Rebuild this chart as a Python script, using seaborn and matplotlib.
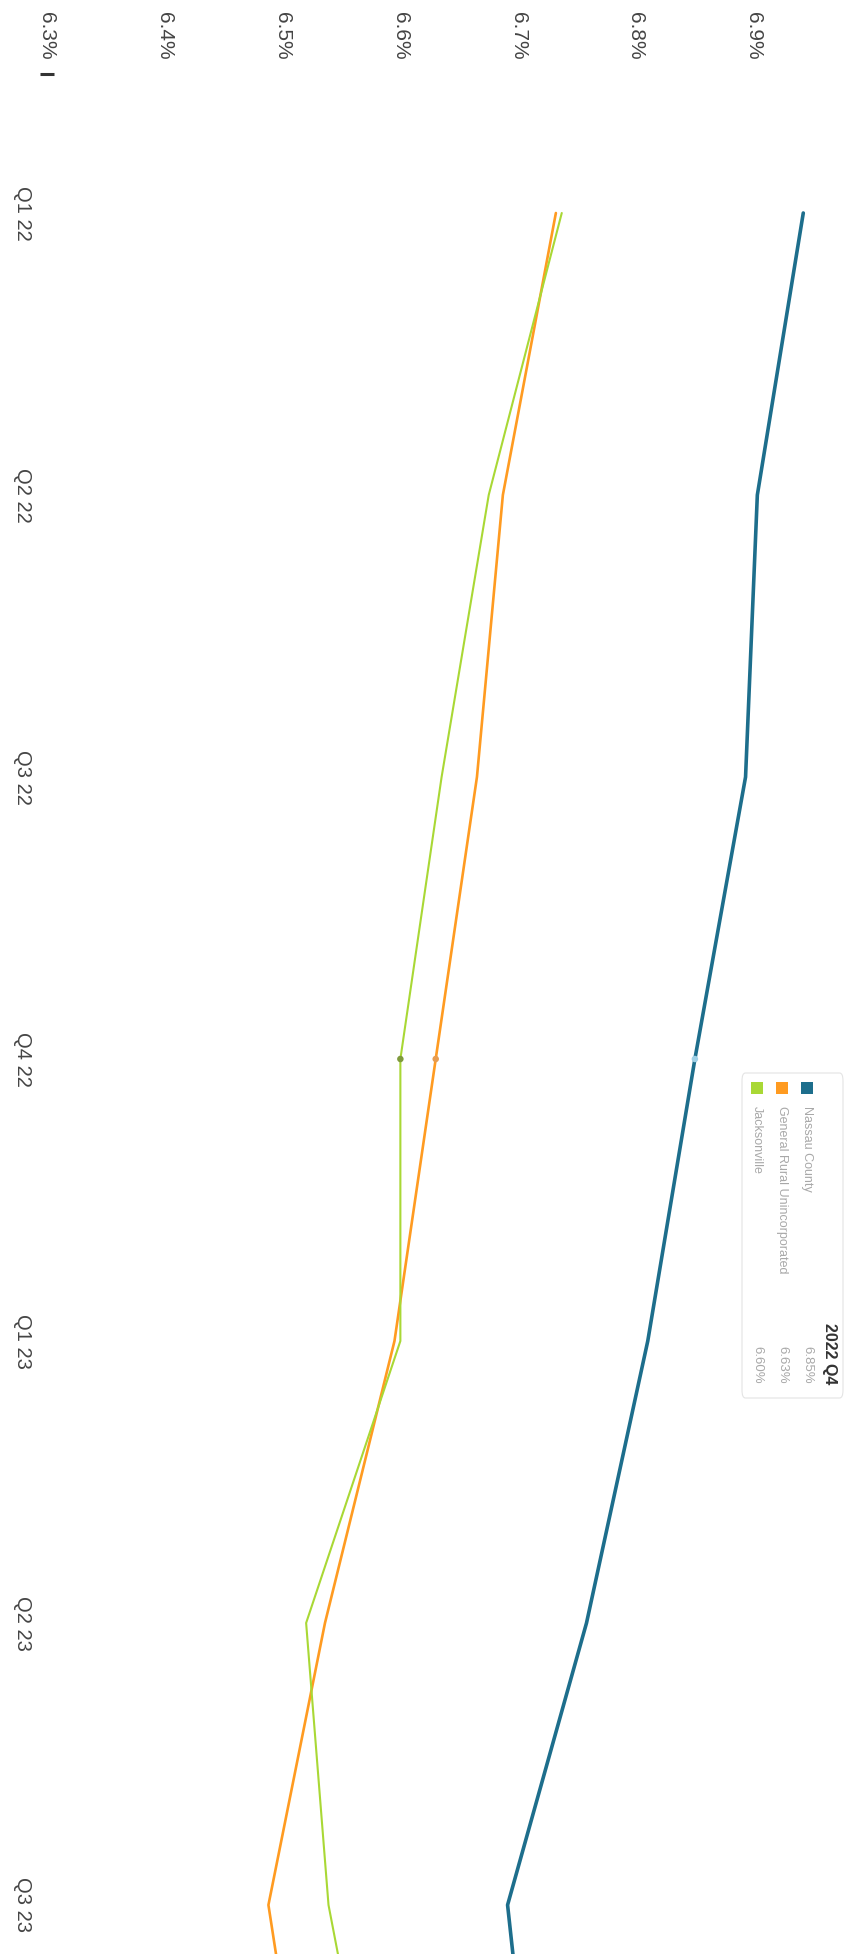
import numpy as np
import pandas as pd
import matplotlib
matplotlib.use("Agg")
import matplotlib.pyplot as plt
import seaborn as sns
from matplotlib.patches import FancyBboxPatch, Rectangle

# chart data (the chart is drawn turned a quarter turn: values run left->right, quarters top->bottom)
quarters = ["Q1 22", "Q2 22", "Q3 22", "Q4 22", "Q1 23", "Q2 23", "Q3 23", "Q4 23"]
nassau = [6.942, 6.903, 6.893, 6.85, 6.81, 6.758, 6.691, 6.717]
general_rural = [6.732, 6.687, 6.665, 6.63, 6.595, 6.536, 6.488, 6.525]
jacksonville = [6.737, 6.675, 6.635, 6.60, 6.60, 6.52, 6.539, 6.585]
series_names = ["Nassau County", "General Rural Unincorporated", "Jacksonville"]
series_colors = ["#1d6e8c", "#ff9b21", "#a9d835"]
hover_colors = ["#9fd0e6", "#e79c50", "#7f9a3c"]
pct_ticks = [6.3, 6.4, 6.5, 6.6, 6.7, 6.8, 6.9]
hover_quarter = "Q4 22"
tooltip_title = "2022 Q4"

df = pd.DataFrame({
    "quarter": quarters * 3,
    "q_idx": list(range(len(quarters))) * 3,
    "rate": nassau + general_rural + jacksonville,
    "series": np.repeat(series_names, len(quarters)),
})

sns.set_theme(style="white")
plt.rcParams["font.family"] = ["Liberation Sans", "DejaVu Sans"]

W, H, DPI = 857, 1954, 100
fig = plt.figure(figsize=(W / DPI, H / DPI), dpi=DPI, facecolor="white")
ax = fig.add_axes([42 / W, 0, 1 - 42 / W, 1 - 74 / H])

sns.lineplot(
    data=df, x="rate", y="q_idx", hue="series", hue_order=series_names,
    palette=series_colors, orient="y", sort=True, legend=False, ax=ax,
)
for line, lw in zip(ax.lines, [2.6, 1.9, 1.5]):
    line.set_linewidth(lw)
    line.set_solid_joinstyle("round")

# hover dots at the highlighted quarter
hi = quarters.index(hover_quarter)
hover_vals = [nassau[hi], general_rural[hi], jacksonville[hi]]
ax.scatter(hover_vals, [hi] * 3, c=hover_colors, s=22, zorder=5, linewidths=0)

ax.set_xlabel("")
ax.set_ylabel("")
for s in ax.spines.values():
    s.set_visible(False)

ax.set_xticks(pct_ticks)
ax.set_xticklabels([f"{t:.1f}%" for t in pct_ticks], rotation=-90, ha="center", va="bottom")
ax.xaxis.tick_top()
ax.tick_params(axis="x", top=True, bottom=False, labeltop=True, labelbottom=False,
               length=0, width=2.2, color="#333333", pad=10, labelsize=15,
               labelcolor="#444444")
for i, tk in enumerate(ax.xaxis.get_major_ticks()):
    tk.tick2line.set_marker("_")
    tk.tick2line.set_markersize(9.5 if i == 0 else 0)

ax.set_yticks(range(len(quarters)))
ax.set_yticklabels(quarters, rotation=-90, ha="right", va="center")
ax.tick_params(axis="y", left=False, length=0, pad=7, labelsize=14.5, labelcolor="#444444")

# limits after the ticks, so the ticks do not widen them
ax.set_xlim(6.2958, 6.9876)
ax.set_ylim(6.1738, -0.4929)

# hover tooltip (turned with the chart)
def fx(px):
    return px / W

def fy(py):
    return 1 - py / H

box = FancyBboxPatch((fx(742), fy(1398)), fx(843) - fx(742), fy(1073) - fy(1398),
                     boxstyle="round,pad=0,rounding_size=0.004", transform=fig.transFigure,
                     facecolor="white", edgecolor="#e4e4e4", linewidth=0.8, zorder=10)
fig.add_artist(box)
fig.text(fx(830), fy(1384), tooltip_title, rotation=-90, rotation_mode="anchor",
         ha="right", va="center", fontsize=11.5, fontweight="bold", color="#333333", zorder=11)
for name, col, val, xpx in zip(series_names, series_colors, hover_vals, [807, 782, 757]):
    fig.add_artist(Rectangle((fx(xpx) - 6 / W, fy(1088) - 6 / H), 12 / W, 12 / H,
                             transform=fig.transFigure, facecolor=col, edgecolor="none", zorder=11))
    fig.text(fx(xpx), fy(1106), name, rotation=-90, rotation_mode="anchor",
             ha="left", va="center", fontsize=9, color="#a8a8a8", zorder=11)
    fig.text(fx(xpx), fy(1384), f"{val:.2f}%", rotation=-90, rotation_mode="anchor",
             ha="right", va="center", fontsize=9.5, color="#a8a8a8", zorder=11)

fig.savefig("out.png", dpi=DPI, facecolor="white")
